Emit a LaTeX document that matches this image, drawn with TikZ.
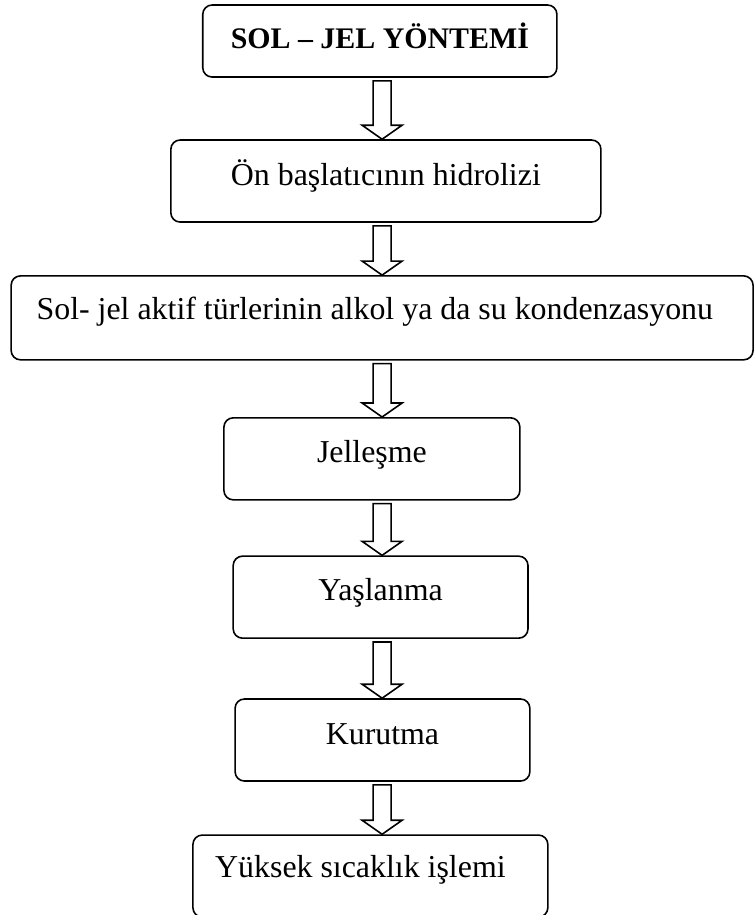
\documentclass[tikz,border=0pt]{standalone}
\usepackage{fontspec}
\setmainfont{Liberation Serif}
\usepackage{tikz}
\usetikzlibrary{calc}
\usetikzlibrary{positioning}

% hollow block arrow from the bottom of #1 to the top of #2
\newcommand{\hollowarrow}[2]{%
  \draw[blk] ($(#1.south -| axis)+(-0.238,-0.08)$) -- ($(#2.north -| axis)+(-0.238,0.37)$)
    -- ++(-0.29,0) -- (#2.north -| axis) -- ++(0.528,0.37) -- ++(-0.29,0)
    -- ($(#1.south -| axis)+(0.238,-0.08)$) -- cycle;}

\begin{document}
\begin{tikzpicture}[
  stepbox/.style={draw,rounded corners=7pt,line width=1.2pt,text height=16pt,font=\fontsize{24}{28}\selectfont},
  blk/.style={line width=1.2pt,line join=miter,fill=white}
]
\useasboundingbox (0,0) rectangle (19.95,-24.21);
\coordinate (axis) at (10.11,0);
% Boxes
\node[stepbox,minimum width=9.37cm,minimum height=1.905cm,text depth=4pt,font=\fontsize{22.5}{27}\selectfont\bfseries] (yontem) at (10.05,-1.085) {SOL – JEL YÖNTEMİ};
\node[stepbox,minimum width=11.38cm,minimum height=2.17cm,text depth=10pt] (hidroliz) at (10.21,-4.79) {Ön başlatıcının hidrolizi};
\node[stepbox,minimum width=19.63cm,minimum height=2.22cm,text depth=13pt] (kondenz) at (10.11,-8.41) {Sol- jel aktif türlerinin alkol ya da su kondenzasyonu\hspace*{11pt}};
\node[stepbox,minimum width=7.83cm,minimum height=2.17cm,text depth=10pt] (jel) at (9.84,-12.14) {Jelleşme};
\node[stepbox,minimum width=7.80cm,minimum height=2.17cm,text depth=11.5pt] (yaslanma) at (10.07,-15.80) {Yaşlanma};
\node[stepbox,minimum width=7.80cm,minimum height=2.17cm,text depth=10pt] (kurutma) at (10.12,-19.58) {Kurutma};
\node[stepbox,minimum width=9.39cm,minimum height=2.17cm,text depth=14.5pt] (isil) at (9.80,-23.18) {Yüksek sıcaklık işlemi\hspace*{15pt}};

% Arrows
\hollowarrow{yontem}{hidroliz}
\hollowarrow{hidroliz}{kondenz}
\hollowarrow{kondenz}{jel}
\hollowarrow{jel}{yaslanma}
\hollowarrow{yaslanma}{kurutma}
\hollowarrow{kurutma}{isil}
\end{tikzpicture}
\end{document}
